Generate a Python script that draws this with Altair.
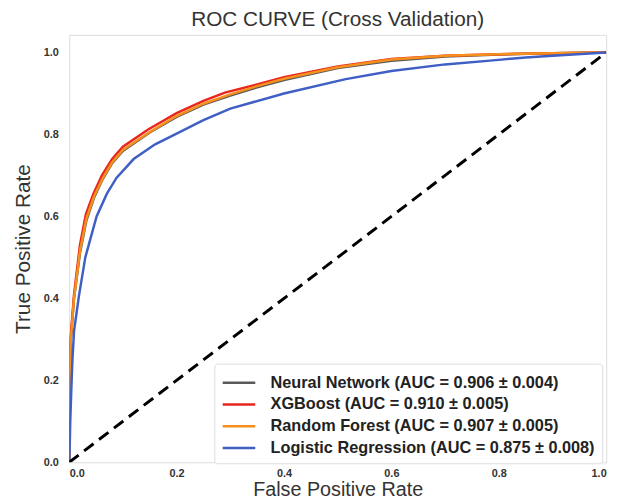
import altair as alt
import pandas as pd

# ---- data ----
series_names = [
    "Neural Network (AUC = 0.906 ± 0.004)",
    "XGBoost (AUC = 0.910 ± 0.005)",
    "Random Forest (AUC = 0.907 ± 0.005)",
    "Logistic Regression (AUC = 0.875 ± 0.008)",
]
series_colors = ["#5a5a5a", "#e8261c", "#f5901c", "#3f5fc4"]

nn_fpr = [0.0, 0.0005, 0.003, 0.009, 0.02, 0.032, 0.046, 0.062, 0.08, 0.1, 0.15, 0.2, 0.25, 0.3, 0.35, 0.4, 0.5, 0.6, 0.7, 0.8, 0.9, 1.0]
nn_tpr = [0.0, 0.19, 0.3, 0.4, 0.51, 0.59, 0.645, 0.69, 0.73, 0.76, 0.805, 0.843, 0.873, 0.895, 0.915, 0.933, 0.962, 0.98, 0.99, 0.995, 0.998, 1.0]

xgb_fpr = [0.0, 0.0005, 0.003, 0.009, 0.02, 0.031, 0.045, 0.061, 0.08, 0.1, 0.147, 0.2, 0.25, 0.29, 0.35, 0.4, 0.5, 0.6, 0.7, 0.8, 0.9, 1.0]
xgb_tpr = [0.0, 0.2, 0.31, 0.41, 0.53, 0.605, 0.655, 0.7, 0.74, 0.77, 0.812, 0.852, 0.882, 0.902, 0.922, 0.94, 0.966, 0.984, 0.992, 0.996, 0.998, 1.0]

rf_fpr = [0.0, 0.0005, 0.003, 0.009, 0.02, 0.032, 0.046, 0.062, 0.08, 0.1, 0.15, 0.2, 0.25, 0.3, 0.35, 0.4, 0.5, 0.6, 0.7, 0.8, 0.9, 1.0]
rf_tpr = [0.0, 0.2, 0.3, 0.4, 0.515, 0.595, 0.648, 0.692, 0.732, 0.762, 0.806, 0.845, 0.875, 0.898, 0.918, 0.936, 0.964, 0.983, 0.992, 0.996, 0.998, 1.0]

lr_fpr = [0.0, 0.001, 0.002, 0.004, 0.006, 0.009, 0.018, 0.03, 0.051, 0.07, 0.088, 0.12, 0.16, 0.2, 0.25, 0.3, 0.4, 0.515, 0.6, 0.7, 0.8, 0.85, 0.9, 1.0]
lr_tpr = [0.0, 0.04, 0.1, 0.18, 0.25, 0.32, 0.405, 0.5, 0.6, 0.655, 0.694, 0.74, 0.776, 0.802, 0.835, 0.863, 0.9, 0.935, 0.955, 0.971, 0.982, 0.988, 0.992, 1.0]

diag_x = [0.0, 1.0]
diag_y = [0.0, 1.0]

tick_values = [0.0, 0.2, 0.4, 0.6, 0.8, 1.0]

all_fpr = [nn_fpr, xgb_fpr, rf_fpr, lr_fpr]
all_tpr = [nn_tpr, xgb_tpr, rf_tpr, lr_tpr]

rows = []
for name, fx, ty in zip(series_names, all_fpr, all_tpr):
    for i, (a, b) in enumerate(zip(fx, ty)):
        rows.append({"model": name, "fpr": a, "tpr": b, "idx": i})
df = pd.DataFrame(rows)
diag_df = pd.DataFrame({"x": diag_x, "y": diag_y})

FONT = "Liberation Sans"

xscale = alt.Scale(domain=[0, 1.0], nice=False, zero=False)
yscale = alt.Scale(domain=[0, 1.043], nice=False, zero=False)
cscale = alt.Scale(domain=series_names, range=series_colors)

xaxis = alt.Axis(values=tick_values, format=".1f", grid=False, ticks=False,
                 domain=False, labelFont=FONT, labelFontWeight="bold", labelFontSize=11,
                 labelColor="#333333", labelPadding=5, title="False Positive Rate",
                 titleFont=FONT, titleFontSize=20, titleFontWeight="normal",
                 titleColor="#333333", titlePadding=2)
yaxis = alt.Axis(values=tick_values, format=".1f", grid=False, ticks=False,
                 domain=False, labelFont=FONT, labelFontWeight="bold", labelFontSize=11,
                 labelColor="#333333", labelPadding=11, title="True Positive Rate",
                 titleFont=FONT, titleFontSize=21, titleFontWeight="normal",
                 titleColor="#333333", titlePadding=10)

legend = alt.Legend(title=None, orient="none", legendX=147, legendY=333,
                    symbolType="M-1.5,0H1.5", symbolSize=484, symbolStrokeWidth=2.5,
                    symbolOffset=5.5,
                    labelFont=FONT, labelFontSize=16.5, labelFontWeight="bold",
                    labelColor="#222222", labelOffset=19.5, labelLimit=500,
                    rowPadding=1, padding=7, strokeColor="#dddddd", fillColor="white",
                    cornerRadius=3)

layers = []
for i, name in enumerate(series_names):
    layers.append(
        alt.Chart(df).transform_filter(alt.datum.model == name).mark_line(strokeWidth=2.5, clip=True).encode(
            x=alt.X("fpr:Q", scale=xscale, axis=xaxis),
            y=alt.Y("tpr:Q", scale=yscale, axis=yaxis),
            color=alt.Color("model:N", scale=cscale, legend=legend),
            order="idx:Q",
        )
    )

diag = alt.Chart(diag_df).mark_line(color="black", strokeWidth=3, strokeDash=[12, 7], clip=True).encode(
    x=alt.X("x:Q", scale=xscale, axis=xaxis),
    y=alt.Y("y:Q", scale=yscale, axis=yaxis),
)

chart = alt.layer(*layers, diag).resolve_scale(color="shared").properties(
    width=544, height=433,
    title=alt.TitleParams("ROC CURVE (Cross Validation)", font=FONT, fontSize=21,
                          fontWeight="normal", color="#333333", anchor="middle", offset=5),
    autosize=alt.AutoSizeParams(type="none"),
    padding={"left": 62, "top": 24, "right": 13, "bottom": 39},
).configure_view(stroke="#d8d8d8", strokeWidth=1.2).configure(background="white")

chart.save("out.html", embed_options={"renderer": "svg", "actions": False})
